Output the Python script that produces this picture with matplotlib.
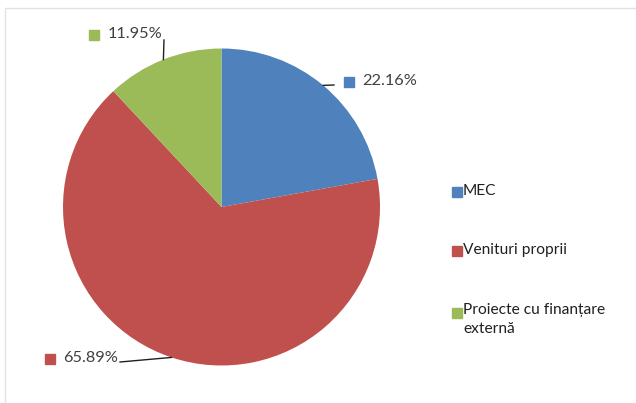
import numpy as np
import matplotlib.pyplot as plt
from matplotlib.patches import Rectangle

plt.rcParams['font.family'] = ['Lato', 'DejaVu Sans']

labels = ['MEC', 'Venituri proprii', 'Proiecte cu finanțare\nexternă']
shares = [22.16, 65.89, 11.95]
colors = ['#4F81BD', '#C0504D', '#9BBB59']

W, H = 636, 403
fig = plt.figure(figsize=(W / 100, H / 100), dpi=100)

# light frame around the chart area (clipped at right/bottom)
fig.patches.append(Rectangle((5 / W, -0.1), 1.2, 1 - 8 / H + 0.1,
                             transform=fig.transFigure, fill=False,
                             edgecolor='#e2e2e2', linewidth=1))

# pie centre (221.5, 207) px, radius 158.5 px
cx, cy, r = 221.5, 207, 158.5
ax = fig.add_axes([(cx - r) / W, (H - cy - r) / H, 2 * r / W, 2 * r / H])
wedges, _ = ax.pie(shares, colors=colors, startangle=90, counterclock=False,
                   radius=1, wedgeprops=dict(linewidth=0))
ax.set_xlim(-1, 1)
ax.set_ylim(-1, 1)
ax.set_aspect('equal')
ax.axis('off')


def to_data(px, py):
    return (px - cx) / r, (cy - py) / r


# leader line end point and label anchor (pixels) for each slice
label_pos = [
    dict(end=(334, 85), text=(362, 81), ha='left'),
    dict(end=(120, 362), text=(118, 358), ha='right'),
    dict(end=(164, 40), text=(162, 34), ha='right'),
]

fig.canvas.draw()
for w, val, col, lp in zip(wedges, shares, colors, label_pos):
    mid = np.deg2rad((w.theta1 + w.theta2) / 2)
    x0, y0 = np.cos(mid), np.sin(mid)
    x1, y1 = to_data(*lp['end'])
    ax.plot([x0, x1], [y0, y1], color='#202020', lw=1, clip_on=False)
    tx, ty = to_data(*lp['text'])
    t = ax.text(tx, ty, f'{val:.2f}%', ha=lp['ha'], va='center',
                fontsize=11.8, color='#404040', clip_on=False)
    # coloured square in front of the value
    bb = t.get_window_extent(renderer=fig.canvas.get_renderer())
    ax.plot([bb.x0 - 13], [bb.y0 + bb.height / 2 - 1], marker='s', ms=7,
            color=col, transform=None, clip_on=False)

# legend on the right
leg_y = [191, 250, 312]
for lab, col, y in zip(labels, colors, leg_y):
    if '\n' in lab:
        fig.text(463 / W, 1 - (y - 9) / H, lab, ha='left', va='top',
                 fontsize=11.2, color='#202020', linespacing=1.45)
    else:
        fig.text(463 / W, 1 - y / H, lab, ha='left', va='center',
                 fontsize=11.2, color='#202020')
    fig.lines.append(plt.Line2D([457 / W], [1 - (y + 0.5) / H], marker='s', ms=7,
                                color=col, transform=fig.transFigure))

fig.savefig('out.png', dpi=100)
